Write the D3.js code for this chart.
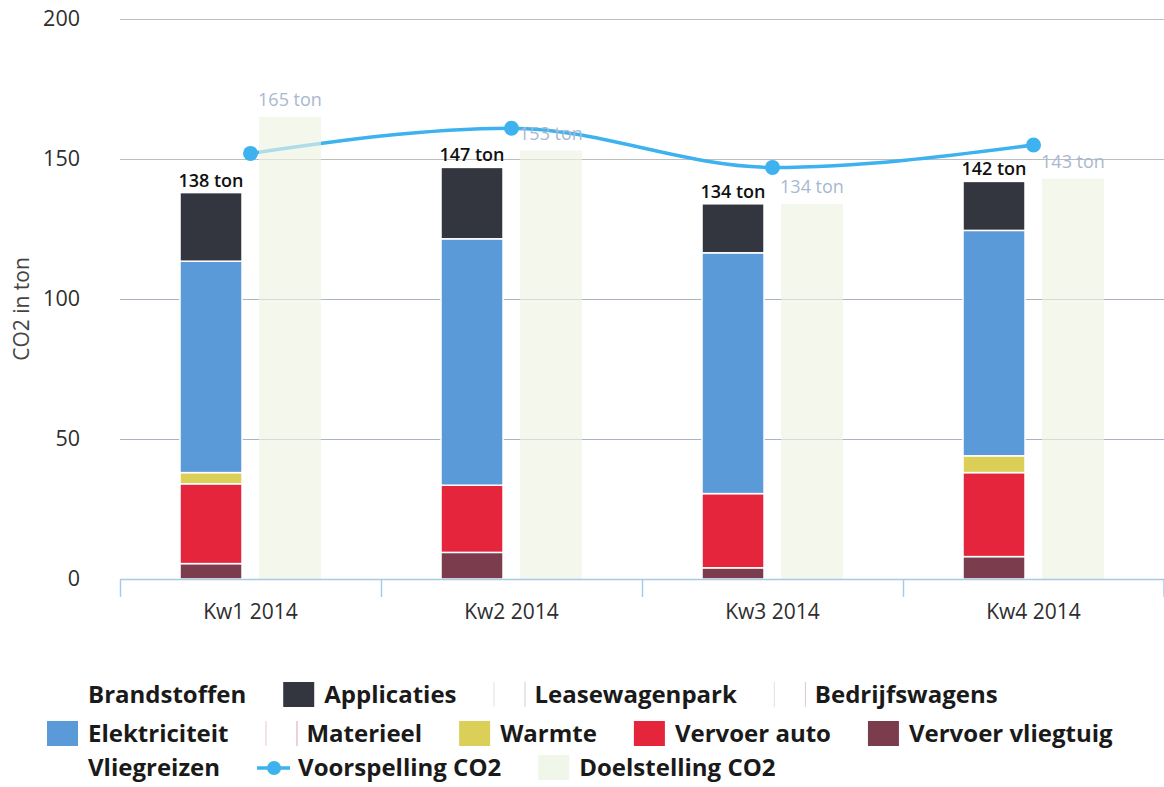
<!DOCTYPE html>
<html>
<head>
<meta charset="utf-8">
<script src="https://cdn.jsdelivr.net/npm/d3@7"></script>
<style>
  html, body { margin: 0; padding: 0; background: #fff; }
  svg { display: block; font-family: "Open Sans", "Noto Sans", sans-serif; }
</style>
</head>
<body>
<svg id="chart" width="1164" height="787"></svg>
<script>
// ---- data ----
const categories = ["Kw1 2014", "Kw2 2014", "Kw3 2014", "Kw4 2014"];
const stackSeries = ["Vervoer vliegtuig", "Vervoer auto", "Warmte", "Elektriciteit", "Applicaties"];
const vervoerVliegtuig = [5.5, 9.5, 4, 8];
const vervoerAuto = [28.5, 24, 26.5, 30];
const warmte = [4, 0, 0, 6];
const elektriciteit = [75.5, 88, 86, 80.5];
const applicaties = [24.5, 25.5, 17.5, 17.5];
const totals = [138, 147, 134, 142];
const doelstelling = [165, 153, 134, 143];
const voorspelling = [152, 161, 147, 155];
const yTicks = [0, 50, 100, 150, 200];
const legendRows = [
  ["Brandstoffen", "Applicaties", "Leasewagenpark", "Bedrijfswagens"],
  ["Elektriciteit", "Materieel", "Warmte", "Vervoer auto", "Vervoer vliegtuig"],
  ["Vliegreizen", "Voorspelling CO2", "Doelstelling CO2"]
];

const colors = {
  "Brandstoffen": "#ffffff",
  "Applicaties": "#34363f",
  "Leasewagenpark": "#ffffff",
  "Bedrijfswagens": "#ffffff",
  "Elektriciteit": "#5b9ad9",
  "Materieel": "#ffffff",
  "Warmte": "#dccf58",
  "Vervoer auto": "#e5253b",
  "Vervoer vliegtuig": "#7b3d4e",
  "Vliegreizen": "#ffffff",
  "Voorspelling CO2": "#3db2ee",
  "Doelstelling CO2": "#f1f6ea"
};
const legendBorders = {
  "Leasewagenpark": "#cfcfcf",
  "Bedrijfswagens": "#d9c9c9",
  "Materieel": "#e2a0b8"
};
const valuesBySeries = {
  "Vervoer vliegtuig": vervoerVliegtuig,
  "Vervoer auto": vervoerAuto,
  "Warmte": warmte,
  "Elektriciteit": elektriciteit,
  "Applicaties": applicaties
};

// ---- layout ----
const plot = { left: 120, right: 1164, top: 19, bottom: 579 };
const svg = d3.select("#chart");

const x = d3.scaleBand().domain(categories).range([plot.left, plot.right]).padding(0);
const xInner = d3.scaleBand().domain(["stack", "target"]).range([0, x.bandwidth()])
  .paddingInner(0.215).paddingOuter(0.76);
const y = d3.scaleLinear().domain([0, 200]).range([plot.bottom, plot.top]);

// grid lines
svg.append("g").selectAll("line").data(yTicks.filter(d => d > 0)).join("line")
  .attr("x1", plot.left).attr("x2", plot.right)
  .attr("y1", d => Math.round(y(d)) + 0.5).attr("y2", d => Math.round(y(d)) + 0.5)
  .attr("stroke", d => d >= 150 ? "#bdbdbd" : "#aab2c6").attr("stroke-width", 1);

// y tick labels
svg.append("g").selectAll("text").data(yTicks).join("text")
  .attr("x", 80).attr("y", d => y(d) + 7)
  .attr("text-anchor", "end").attr("font-size", 21.5).attr("fill", "#2e2e2e")
  .text(d => d);

// y title
svg.append("text")
  .attr("transform", `translate(29, ${(plot.top + plot.bottom) / 2 + 10}) rotate(-90)`)
  .attr("text-anchor", "middle").attr("font-size", 21).attr("fill", "#444")
  .text("CO2 in ton");

// stacked bars
const stackData = categories.map((c, i) => {
  const o = { cat: c };
  stackSeries.forEach(s => o[s] = valuesBySeries[s][i]);
  return o;
});
const stacked = d3.stack().keys(stackSeries)(stackData);
const gStack = svg.append("g");
stacked.forEach(layer => {
  gStack.append("g").selectAll("rect").data(layer.filter(d => d[1] - d[0] > 0)).join("rect")
    .attr("x", d => x(d.data.cat) + xInner("stack"))
    .attr("width", xInner.bandwidth())
    .attr("y", d => y(d[1]))
    .attr("height", d => y(d[0]) - y(d[1]))
    .attr("fill", colors[layer.key])
    .attr("stroke", "#fff").attr("stroke-width", 1.5);
});

// line (forecast) - drawn under target bars
const lineGen = d3.line()
  .x((d, i) => x(categories[i]) + x.bandwidth() / 2)
  .y(d => y(d))
  .curve(d3.curveMonotoneX);
const gLine = svg.append("g");
gLine.append("path").datum(voorspelling).attr("d", lineGen)
  .attr("fill", "none").attr("stroke", colors["Voorspelling CO2"]).attr("stroke-width", 3.5);
gLine.selectAll("circle").data(voorspelling).join("circle")
  .attr("cx", (d, i) => x(categories[i]) + x.bandwidth() / 2)
  .attr("cy", d => y(d)).attr("r", 7.5)
  .attr("fill", colors["Voorspelling CO2"]);

// target bars (semi-transparent)
svg.append("g").selectAll("rect").data(doelstelling).join("rect")
  .attr("x", (d, i) => x(categories[i]) + xInner("target"))
  .attr("width", xInner.bandwidth())
  .attr("y", d => y(d))
  .attr("height", d => y(0) - y(d))
  .attr("fill", "#ecf3e2").attr("opacity", 0.65);

// x axis line and ticks
const gx = svg.append("g");
gx.append("line").attr("x1", plot.left).attr("x2", plot.right)
  .attr("y1", plot.bottom + 0.5).attr("y2", plot.bottom + 0.5)
  .attr("stroke", "#a9c9e8").attr("stroke-width", 1.5);
const boundaries = categories.map(c => x(c)).concat([plot.right - 0.5]);
gx.selectAll("line.tick").data(boundaries).join("line").attr("class", "tick")
  .attr("x1", d => d + 0.5).attr("x2", d => d + 0.5)
  .attr("y1", plot.bottom).attr("y2", plot.bottom + 18)
  .attr("stroke", "#a9c9e8").attr("stroke-width", 1.5);
gx.selectAll("text").data(categories).join("text")
  .attr("x", d => x(d) + x.bandwidth() / 2).attr("y", 619)
  .attr("text-anchor", "middle").attr("font-size", 21).attr("fill", "#2e2e2e")
  .text(d => d);

// data labels
svg.append("g").selectAll("text").data(totals).join("text")
  .attr("x", (d, i) => x(categories[i]) + xInner("stack") + xInner.bandwidth() / 2)
  .attr("y", d => y(d) - 6)
  .attr("text-anchor", "middle").attr("font-size", 18).attr("font-weight", 600).attr("fill", "#111")
  .text(d => d + " ton");
svg.append("g").selectAll("text").data(doelstelling).join("text")
  .attr("x", (d, i) => x(categories[i]) + xInner("target") + xInner.bandwidth() / 2)
  .attr("y", d => y(d) - 11)
  .attr("text-anchor", "middle").attr("font-size", 18).attr("fill", "#a8b8d0")
  .text(d => d + " ton");

// legend
const legendRowY = [695, 734, 768];
const gLeg = svg.append("g");
legendRows.forEach((row, ri) => {
  let cx = 47;
  const cy = legendRowY[ri];
  row.forEach(name => {
    const g = gLeg.append("g");
    if (name === "Voorspelling CO2") {
      g.append("line").attr("x1", cx).attr("x2", cx + 33).attr("y1", cy).attr("y2", cy)
        .attr("stroke", colors[name]).attr("stroke-width", 3.5);
      g.append("circle").attr("cx", cx + 17).attr("cy", cy).attr("r", 7).attr("fill", colors[name]);
    } else {
      g.append("rect").attr("x", cx).attr("y", cy - 13).attr("width", 31).attr("height", 25)
        .attr("fill", colors[name]);
      if (legendBorders[name]) {
        g.append("line").attr("x1", cx + 0.5).attr("x2", cx + 0.5).attr("y1", cy - 13).attr("y2", cy + 12)
          .attr("stroke", legendBorders[name]).attr("stroke-width", 1).attr("opacity", 0.6);
        g.append("line").attr("x1", cx + 31.5).attr("x2", cx + 31.5).attr("y1", cy - 13).attr("y2", cy + 12)
          .attr("stroke", legendBorders[name]).attr("stroke-width", 1);
      }
    }
    const t = g.append("text").attr("x", cx + 41).attr("y", cy + 8)
      .attr("font-size", 24).attr("font-weight", 700).attr("fill", "#1a1a1a")
      .text(name);
    const w = t.node().getComputedTextLength();
    cx += 41 + w + 37;
  });
});
</script>
</body>
</html>
